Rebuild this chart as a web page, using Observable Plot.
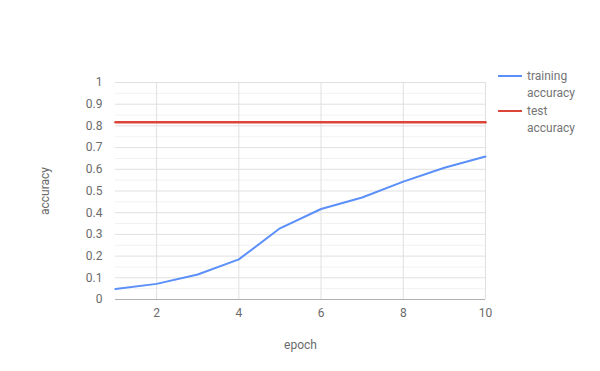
<!DOCTYPE html>
<html>
<head>
<meta charset="utf-8">
<script src="https://cdn.jsdelivr.net/npm/d3@7"></script>
<script src="https://cdn.jsdelivr.net/npm/@observablehq/plot@0.6"></script>
<style>
  body { margin: 0; background: #fff; font-family: Roboto, "Liberation Sans", Arial, sans-serif; }
  #wrap { position: relative; width: 600px; height: 371px; }
  #legend { position: absolute; left: 498px; top: 68px; font-size: 12px; color: #757575; line-height: 16.5px; }
  .item { display: flex; align-items: flex-start; margin-bottom: 2px; }
  .sw { width: 24px; height: 2px; margin-top: 7px; margin-right: 5px; }
</style>
</head>
<body>
<div id="wrap"><div id="legend"></div></div>
<script>
const epochs = [1, 2, 3, 4, 5, 6, 7, 8, 9, 10];
const trainingAccuracy = [0.048, 0.072, 0.115, 0.185, 0.328, 0.417, 0.47, 0.543, 0.607, 0.659];
const testAccuracy = [0.817, 0.817, 0.817, 0.817, 0.817, 0.817, 0.817, 0.817, 0.817, 0.817];
const seriesNames = ["training accuracy", "test accuracy"];
const seriesColors = ["#5b8ff9", "#db4437"];
const xTicks = [2, 4, 6, 8, 10];
const yTicks = [0, 0.1, 0.2, 0.3, 0.4, 0.5, 0.6, 0.7, 0.8, 0.9, 1];
const yMinor = [0.05, 0.15, 0.25, 0.35, 0.45, 0.55, 0.65, 0.75, 0.85, 0.95];

const train = epochs.map((e, i) => ({epoch: e, acc: trainingAccuracy[i]}));
const test = epochs.map((e, i) => ({epoch: e, acc: testAccuracy[i]}));

const chart = Plot.plot({
  width: 600,
  height: 371,
  marginLeft: 115,
  marginRight: 115,
  marginTop: 82,
  marginBottom: 72,
  style: { fontFamily: "Roboto, 'Liberation Sans', Arial, sans-serif", fontSize: "12px", color: "#6b6b6b", background: "#fff" },
  x: { domain: [1, 10] },
  y: { domain: [0, 1] },
  marks: [
    Plot.ruleY(yMinor, { stroke: "#f2f2f2", strokeOpacity: 1 }),
    Plot.ruleY(yTicks.slice(1), { stroke: "#e0e0e0", strokeOpacity: 1 }),
    Plot.ruleX(xTicks, { stroke: "#e0e0e0", strokeOpacity: 1 }),
    Plot.ruleY([0], { stroke: "#b0b0b0" }),
    Plot.axisY(yTicks, { tickSize: 0, tickPadding: 13, tickFormat: d => String(+d.toFixed(1)), fill: "#6b6b6b", label: "accuracy", labelAnchor: "center", labelOffset: 75, labelArrow: "none" }),
    Plot.axisX(xTicks, { tickSize: 0, tickPadding: 9, fill: "#6b6b6b", label: "epoch", labelAnchor: "center", labelOffset: 49, labelArrow: "none" }),
    Plot.line(train, { x: "epoch", y: "acc", stroke: seriesColors[0], strokeWidth: 2 }),
    Plot.line(test, { x: "epoch", y: "acc", stroke: seriesColors[1], strokeWidth: 2.5 })
  ]
});
document.getElementById("wrap").prepend(chart);

const legend = document.getElementById("legend");
seriesNames.forEach((name, i) => {
  const item = document.createElement("div");
  item.className = "item";
  const sw = document.createElement("div");
  sw.className = "sw";
  sw.style.background = seriesColors[i];
  const label = document.createElement("div");
  label.innerHTML = name.split(" ").join("<br>");
  item.append(sw, label);
  legend.append(item);
});
</script>
</body>
</html>
